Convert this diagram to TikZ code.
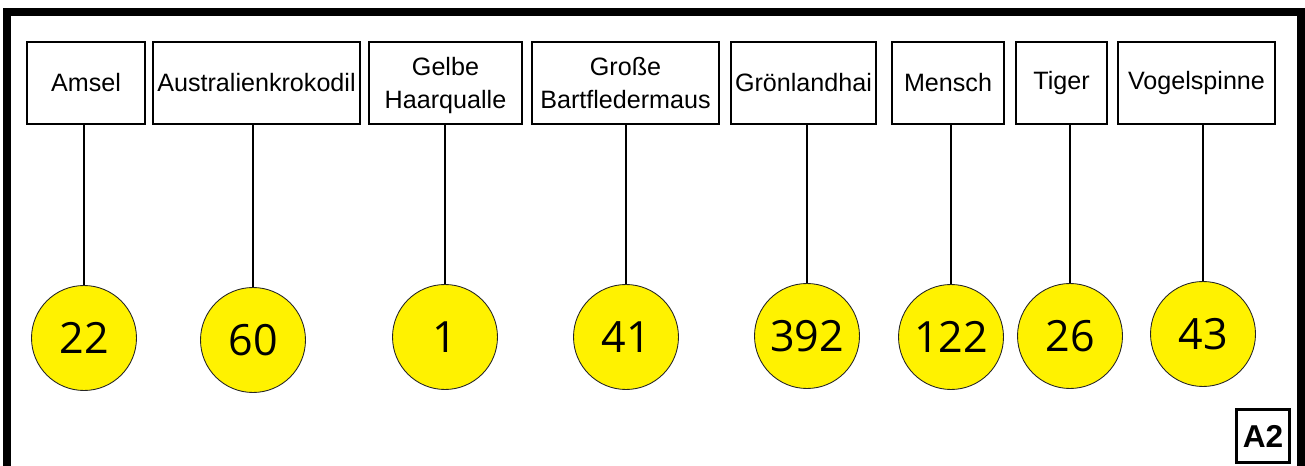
\documentclass[tikz,border=0pt]{standalone}
\usepackage{fontspec}
\setmainfont{Liberation Sans}
\newfontfamily\numfont{Open Sans}
\usepackage{xcolor}
\usepackage{tikz}
\definecolor{ageyellow}{RGB}{255,242,0}

\begin{document}
\begin{tikzpicture}[x=0.02cm,y=-0.02cm,
    animal/.style={draw, line width=1.1pt, align=center, inner sep=0pt,
      minimum height=1.64cm, font=\fontsize{14.3}{19}\selectfont},
    twoline/.style={text depth=0pt},
    age/.style={circle, draw=black!85, line width=0.5pt, fill=ageyellow,
      minimum size=2.1cm, inner sep=0pt, font=\numfont\fontsize{24.5}{30}\selectfont},
    stem/.style={line width=1.1pt}]
    \useasboundingbox (0,0) rectangle (1305,466);
    \clip (0,0) rectangle (1305,466);

    % Rahmen (unten offen)
    \draw[line width=4.5pt] (7,490) -- (7,12) -- (1301,12) -- (1301,490);

    % Tiere
    \node[animal, minimum width=2.36cm] (amsel) at (86,83) {Amsel};
    \node[animal, minimum width=4.14cm] (krokodil) at (256.5,83) {Australienkrokodil};
    \node[animal, twoline, minimum width=3.06cm] (qualle) at (445.5,83) {Gelbe\\Haarqualle};
    \node[animal, twoline, minimum width=3.74cm] (maus) at (625.5,83) {Große\\Bartfledermaus};
    \node[animal, minimum width=2.9cm] (hai) at (803.5,83) {Grönlandhai};
    \node[animal, minimum width=2.24cm] (mensch) at (948,83) {Mensch};
    \node[animal, minimum width=1.82cm] (tiger) at (1061.5,83) {Tiger};
    \node[animal, minimum width=3.14cm] (spinne) at (1196.5,83) {Vogelspinne};

    % Alter
    \node[age] (a-amsel) at (84,338) {22};
    \node[age] (a-krokodil) at (253,340) {60};
    \node[age] (a-qualle) at (445,337) {1};
    \node[age] (a-maus) at (626,337) {41};
    \node[age] (a-hai) at (807,336) {392};
    \node[age] (a-mensch) at (951,337) {122};
    \node[age] (a-tiger) at (1070,336) {26};
    \node[age] (a-spinne) at (1203,334) {43};

    % Verbindungen
    \draw[stem] (a-amsel.north) -- (a-amsel.north |- amsel.south);
    \draw[stem] (a-krokodil.north) -- (a-krokodil.north |- krokodil.south);
    \draw[stem] (a-qualle.north) -- (a-qualle.north |- qualle.south);
    \draw[stem] (a-maus.north) -- (a-maus.north |- maus.south);
    \draw[stem] (a-hai.north) -- (a-hai.north |- hai.south);
    \draw[stem] (a-mensch.north) -- (a-mensch.north |- mensch.south);
    \draw[stem] (a-tiger.north) -- (a-tiger.north |- tiger.south);
    \draw[stem] (a-spinne.north) -- (a-spinne.north |- spinne.south);

    % Kennung
    \node[draw, line width=1.7pt, minimum size=1.06cm, inner sep=0pt,
      font=\fontsize{18}{20}\selectfont\bfseries] (kennung) at (1263,436) {A2};
\end{tikzpicture}
\end{document}
